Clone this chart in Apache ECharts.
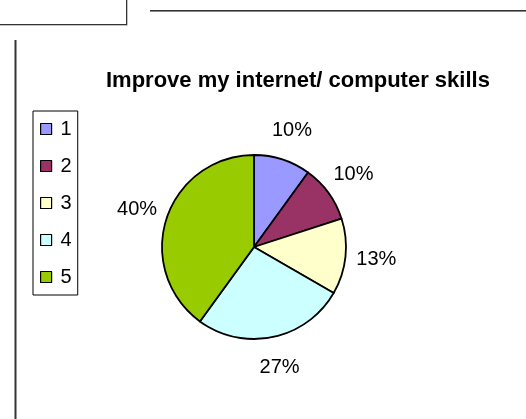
<!DOCTYPE html>
<html>
<head>
<meta charset="utf-8">
<script src="https://cdn.jsdelivr.net/npm/echarts@6/dist/echarts.min.js"></script>
<style>
html,body{margin:0;padding:0;background:#fff;}
#chart{width:526px;height:419px;}
</style>
</head>
<body>
<div id="chart"></div>
<script>
const titleText = 'Improve my internet/ computer skills';
const categories = ['1', '2', '3', '4', '5'];
const counts = [3, 3, 4, 8, 12];
const colors = ['#9999FF', '#993366', '#FFFFCC', '#CCFFFF', '#99CC00'];

const FONT = '"Liberation Sans", Arial, sans-serif';
const chart = echarts.init(document.getElementById('chart'), null, {renderer: 'canvas'});

const pieData = categories.map((c, i) => ({name: c, value: counts[i], itemStyle: {color: colors[i]}}));
const labelData = categories.map((c, i) => ({name: c, value: counts[i]}));

const option = {
  animation: false,
  backgroundColor: '#ffffff',
  title: {
    text: titleText,
    left: 106,
    top: 70,
    padding: 0,
    textStyle: {fontFamily: FONT, fontSize: 22, fontWeight: 'bold', color: '#000'}
  },
  legend: {
    orient: 'vertical',
    left: 33,
    top: 111,
    padding: [8, 6, 8, 7],
    itemGap: 17,
    itemWidth: 11,
    itemHeight: 11,
    icon: 'rect',
    borderColor: '#000',
    borderWidth: 1,
    data: categories,
    itemStyle: {borderColor: '#000', borderWidth: 1.2},
    textStyle: {fontFamily: FONT, fontSize: 20, color: '#000', padding: [0, 0, 0, 4]}
  },
  graphic: [
    {type: 'line', shape: {x1: 0, y1: 25, x2: 127, y2: 25}, style: {stroke: '#888', lineWidth: 1}, z: 1},
    {type: 'line', shape: {x1: 0, y1: 24.5, x2: 126.5, y2: 24.5}, style: {stroke: '#333', lineWidth: 1}, z: 2},
    {type: 'line', shape: {x1: 127, y1: 0, x2: 127, y2: 25.5}, style: {stroke: '#888', lineWidth: 1}, z: 1},
    {type: 'line', shape: {x1: 126.5, y1: 0, x2: 126.5, y2: 25}, style: {stroke: '#333', lineWidth: 1}, z: 2},
    {type: 'line', shape: {x1: 150, y1: 10.5, x2: 526, y2: 10.5}, style: {stroke: '#333', lineWidth: 1}, z: 2},
    {type: 'line', shape: {x1: 150, y1: 11.5, x2: 526, y2: 11.5}, style: {stroke: '#888', lineWidth: 1}, z: 1},
    {type: 'line', shape: {x1: 15.5, y1: 40, x2: 15.5, y2: 419}, style: {stroke: '#333', lineWidth: 2}, z: 2}
  ],
  series: [
    {
      type: 'pie',
      name: 'skills',
      center: [254, 247],
      radius: [0, 92],
      startAngle: 90,
      clockwise: true,
      silent: true,
      data: pieData,
      label: {show: false},
      labelLine: {show: false},
      itemStyle: {borderColor: '#000', borderWidth: 1.8}
    },
    {
      type: 'pie',
      name: 'labels',
      center: [254, 247],
      radius: [0, 240],
      startAngle: 90,
      clockwise: true,
      silent: true,
      legendHoverLink: false,
      data: labelData,
      itemStyle: {color: 'rgba(0,0,0,0)', borderWidth: 0},
      label: {
        show: true,
        position: 'inside',
        fontFamily: FONT,
        fontSize: 20,
        color: '#000',
        formatter: p => Math.round(p.percent) + '%'
      },
      labelLine: {show: false},
      z: 3
    }
  ]
};
chart.setOption(option);
</script>
</body>
</html>
